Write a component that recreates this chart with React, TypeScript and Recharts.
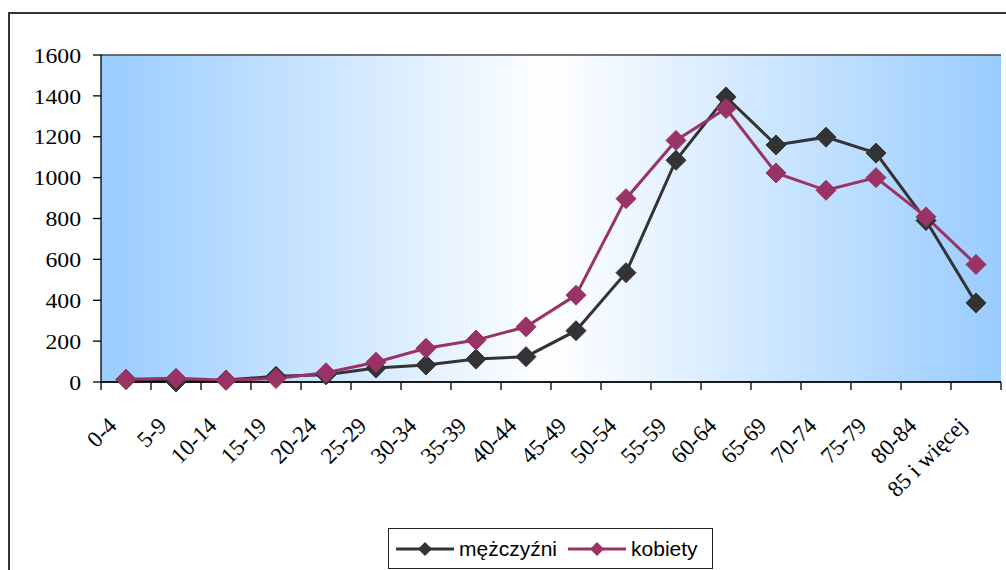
import React from 'react';
import { LineChart, Line, XAxis, YAxis, CartesianGrid, Legend } from 'recharts';

const categories = ['0-4', '5-9', '10-14', '15-19', '20-24', '25-29', '30-34', '35-39', '40-44', '45-49', '50-54', '55-59', '60-64', '65-69', '70-74', '75-79', '80-84', '85 i więcej'];
const men = [12, 0, 10, 28, 35, 68, 83, 112, 124, 251, 535, 1085, 1395, 1160, 1198, 1120, 790, 387];
const women = [13, 18, 8, 17, 45, 97, 165, 205, 270, 425, 897, 1182, 1338, 1023, 938, 1000, 808, 575];
const yTicks = [0, 200, 400, 600, 800, 1000, 1200, 1400, 1600];
const xBoundaries = Array.from({ length: categories.length + 1 }, (_, i) => i);
const seriesNames = ['mężczyźni', 'kobiety'];
const seriesColors = ['#333333', '#993366'];

const data = categories.map((c, i) => ({ x: i + 0.5, label: c, men: men[i], women: women[i] }));

const Diamond = (color: string, r: number) => (props: any) => {
  const { cx, cy, index } = props;
  if (cx == null || cy == null) return <g key={index} />;
  return (
    <polygon
      key={index}
      points={`${cx},${cy - r} ${cx + r},${cy} ${cx},${cy + r} ${cx - r},${cy}`}
      fill={color}
      stroke={color}
      strokeWidth={1}
    />
  );
};

const YTick = (props: any) => {
  const { x, y, payload } = props;
  return (
    <g transform={`translate(${x},${y}) scale(1.08,1)`}>
      <text x={0} y={0} dy="0.35em" textAnchor="end" fontFamily="'Liberation Serif', 'Times New Roman', serif" fontSize={22} fill="#000">
        {payload.value}
      </text>
    </g>
  );
};

const XTick = (props: any) => {
  const { x, y, payload } = props;
  const idx = payload.value;
  if (idx >= categories.length) return <g />;
  return (
    <g transform={`translate(${x + 17},${y + 35}) rotate(-45)`}>
      <text x={0} y={0} textAnchor="end" fontFamily="'Liberation Serif', 'Times New Roman', serif" fontSize={23} fill="#000">
        {categories[idx]}
      </text>
    </g>
  );
};

const LegendContent = () => (
  <div
    style={{
      boxSizing: 'border-box',
      width: 325,
      height: 41,
      border: '1.5px solid #222',
      background: '#fff',
      display: 'flex',
      alignItems: 'center',
      paddingLeft: 6,
      fontFamily: "'Liberation Sans', Arial, sans-serif",
      fontSize: 21,
      color: '#000',
    }}
  >
    {seriesNames.map((n, i) => (
      <div key={n} style={{ display: 'flex', alignItems: 'center', marginRight: 10 }}>
        <svg width={60} height={16} style={{ marginRight: 4 }}>
          <line x1={1} y1={8} x2={59} y2={8} stroke={seriesColors[i]} strokeWidth={3} />
          <polygon points="30,1 37,8 30,15 23,8" fill={seriesColors[i]} />
        </svg>
        <span>{n}</span>
      </div>
    ))}
  </div>
);

export default function App() {
  return (
    <div style={{ position: 'absolute', left: 0, top: 0, width: 1006, height: 570, overflow: 'hidden', background: '#fff' }}>
      <div style={{ position: 'absolute', left: 8, top: 12, width: 1200, height: 800, border: '2px solid #333', boxSizing: 'border-box' }} />
      <div style={{ position: 'absolute', left: 0, top: 0 }}>
        <LineChart width={1006} height={570} data={data} margin={{ top: 55, right: 5, bottom: 68, left: 0 }}>
          <defs>
            <linearGradient id="bgGrad" x1="0" y1="0" x2="1" y2="0">
              <stop offset="0%" stopColor="#99CCFF" />
              <stop offset="50%" stopColor="#FFFFFF" />
              <stop offset="100%" stopColor="#99CCFF" />
            </linearGradient>
          </defs>
          <CartesianGrid vertical={false} stroke="#444" strokeWidth={1.3} fill="url(#bgGrad)" fillOpacity={1} />
          <XAxis
            type="number"
            dataKey="x"
            domain={[0, categories.length]}
            ticks={xBoundaries}
            interval={0}
            tickSize={8}
            tick={<XTick />}
            height={120}
            axisLine={{ stroke: '#000', strokeWidth: 1.3 }}
            tickLine={{ stroke: '#000', strokeWidth: 1.3 }}
            allowDecimals={false}
          />
          <YAxis
            yAxisId="left"
            domain={[0, 1600]}
            ticks={yTicks}
            interval={0}
            width={101}
            tickSize={8}
            tickMargin={12}
            tick={<YTick />}
            axisLine={{ stroke: '#000', strokeWidth: 1.3 }}
            tickLine={{ stroke: '#000', strokeWidth: 1.3 }}
          />
          <YAxis
            yAxisId="right"
            orientation="right"
            domain={[0, 1600]}
            width={0}
            tick={false}
            tickLine={false}
            axisLine={{ stroke: '#888', strokeWidth: 1.5 }}
          />
          <Line
            yAxisId="left"
            dataKey="men"
            name={seriesNames[0]}
            stroke={seriesColors[0]}
            strokeWidth={3}
            dot={Diamond(seriesColors[0], 10)}
            activeDot={false}
            isAnimationActive={false}
          />
          <Line
            yAxisId="left"
            dataKey="women"
            name={seriesNames[1]}
            stroke={seriesColors[1]}
            strokeWidth={3}
            dot={Diamond(seriesColors[1], 10)}
            activeDot={false}
            isAnimationActive={false}
          />
          <Legend
            layout="horizontal"
            verticalAlign="middle"
            align="center"
            content={<LegendContent />}
            wrapperStyle={{ position: 'absolute', left: 388, top: 528, width: 325, height: 41 }}
          />
        </LineChart>
      </div>
    </div>
  );
}
